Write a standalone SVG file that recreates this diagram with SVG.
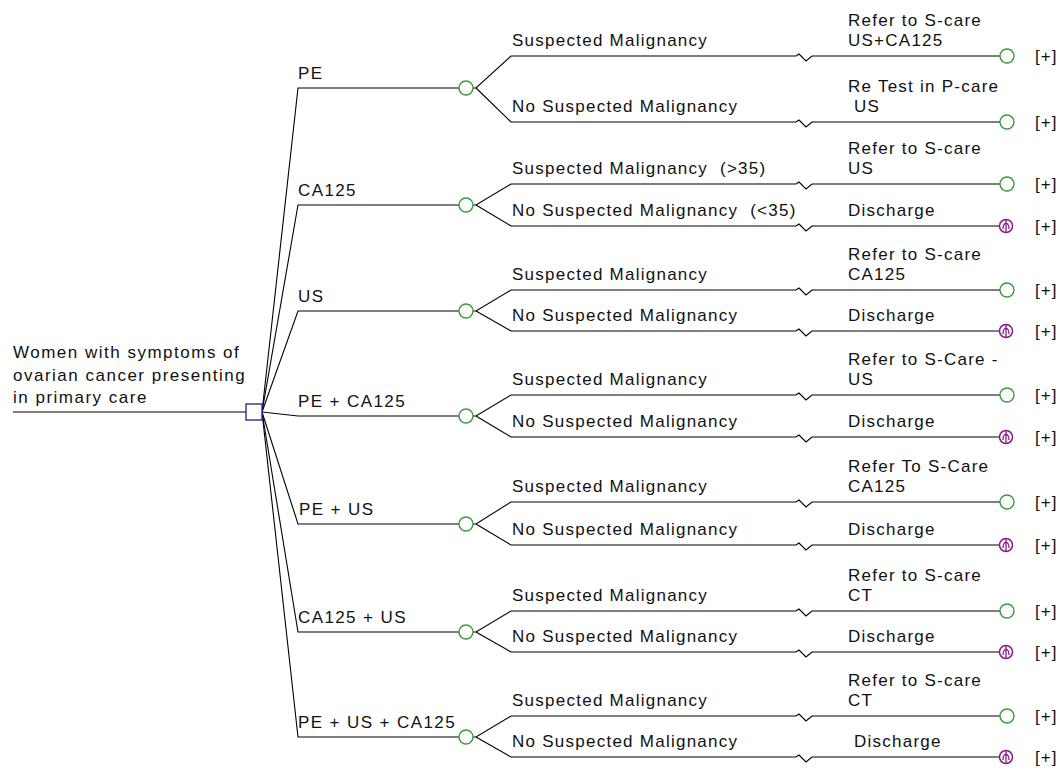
<svg xmlns="http://www.w3.org/2000/svg" xmlns:xlink="http://www.w3.org/1999/xlink" width="1061" height="769" viewBox="0 0 1061 769">
<style>
text{font-family:"Liberation Sans",Arial,sans-serif;font-size:17px;fill:#111;letter-spacing:1.25px}
.root{letter-spacing:1.5px}
.br{letter-spacing:1.4px}
.ln{fill:none;stroke:#000;stroke-width:1.1}
.dec{fill:#fff;stroke:#2b2ba0;stroke-width:1.4}
.ch{fill:#fff;stroke:#3a9a3a;stroke-width:1.4}
.mk{fill:#fff;stroke:#8a1a8a;stroke-width:1.5}
.mki{fill:none;stroke:#8a1a8a;stroke-width:1.3}
.plus{letter-spacing:1px}
</style>
<defs>
<path id="tl" d="M511 0 H796 L799 -2 L806 5 L812 0 H1000"/>
<g id="mkv"><circle class="mk" cx="0" cy="0" r="6.5"/><path class="mki" d="M0 -7 V6 M-3 3 Q-3 -2 0 -3 Q3 -2 3 3"/></g>
</defs>
<rect width="1061" height="769" fill="#fff"/>
<g id="connectors" class="ln">
<path d="M13 412 H246"/>
<path d="M262 412 L298 88 H459"/>
<path d="M262 412 L298 205 H459"/>
<path d="M262 412 L298 311 H459"/>
<path d="M262 412 L298 416 H459"/>
<path d="M262 412 L298 524 H459"/>
<path d="M262 412 L298 632 H459"/>
<path d="M262 412 L298 737 H459"/>
<path d="M473 88 H476 L511 56 M476 88 L511 122"/>
<path d="M473 205 H476 L511 184 M476 205 L511 226"/>
<path d="M473 311 H476 L511 290 M476 311 L511 331"/>
<path d="M473 416 H476 L511 395 M476 416 L511 437"/>
<path d="M473 524 H476 L511 502 M476 524 L511 545"/>
<path d="M473 632 H476 L511 611 M476 632 L511 652"/>
<path d="M473 737 H476 L511 716 M476 737 L511 757"/>
<use xlink:href="#tl" y="56"/>
<use xlink:href="#tl" y="122"/>
<use xlink:href="#tl" y="184"/>
<use xlink:href="#tl" y="226"/>
<use xlink:href="#tl" y="290"/>
<use xlink:href="#tl" y="331"/>
<use xlink:href="#tl" y="395"/>
<use xlink:href="#tl" y="437"/>
<use xlink:href="#tl" y="502"/>
<use xlink:href="#tl" y="545"/>
<use xlink:href="#tl" y="611"/>
<use xlink:href="#tl" y="652"/>
<use xlink:href="#tl" y="716"/>
<use xlink:href="#tl" y="757"/>
</g>
<g id="branch-labels">
<text class="br" x="298" y="79">PE</text>
<text class="br" x="298" y="196">CA125</text>
<text class="br" x="298" y="302">US</text>
<text class="br" x="298" y="407">PE + CA125</text>
<text class="br" x="299" y="515">PE + US</text>
<text class="br" x="298" y="623">CA125 + US</text>
<text class="br" x="298" y="728">PE + US + CA125</text>
<text x="512" y="46">Suspected Malignancy</text>
<text x="512" y="112">No Suspected Malignancy</text>
<text x="512" y="174" xml:space="preserve">Suspected Malignancy  (&gt;35)</text>
<text x="512" y="216" xml:space="preserve">No Suspected Malignancy  (&lt;35)</text>
<text x="512" y="280">Suspected Malignancy</text>
<text x="512" y="321">No Suspected Malignancy</text>
<text x="512" y="385">Suspected Malignancy</text>
<text x="512" y="427">No Suspected Malignancy</text>
<text x="512" y="492">Suspected Malignancy</text>
<text x="512" y="535">No Suspected Malignancy</text>
<text x="512" y="601">Suspected Malignancy</text>
<text x="512" y="642">No Suspected Malignancy</text>
<text x="512" y="706">Suspected Malignancy</text>
<text x="512" y="747">No Suspected Malignancy</text>
</g>
<g id="root">
<text class="root" x="13" y="358">Women with symptoms of</text>
<text class="root" x="13" y="380.5">ovarian cancer presenting</text>
<text class="root" x="13" y="403">in primary care</text>
<rect class="dec" x="246" y="404" width="16" height="16"/>
</g>
<g id="chance-pe"><circle class="ch" cx="466" cy="88" r="7"/></g>
<g id="chance-ca125"><circle class="ch" cx="466" cy="205" r="7"/></g>
<g id="chance-us"><circle class="ch" cx="466" cy="311" r="7"/></g>
<g id="chance-pe-ca125"><circle class="ch" cx="466" cy="416" r="7"/></g>
<g id="chance-pe-us"><circle class="ch" cx="466" cy="524" r="7"/></g>
<g id="chance-ca125-us"><circle class="ch" cx="466" cy="632" r="7"/></g>
<g id="chance-pe-us-ca125"><circle class="ch" cx="466" cy="737" r="7"/></g>

<g id="t1"><text x="848" y="26">Refer to S-care</text><text x="848" y="46">US+CA125</text><circle class="ch" cx="1007" cy="56" r="7"/><text class="plus" x="1035" y="61.5">[+]</text></g>
<g id="t2"><text x="848" y="92">Re Test in P-care</text><text x="854" y="112">US</text><circle class="ch" cx="1007" cy="122" r="7"/><text class="plus" x="1035" y="127.5">[+]</text></g>
<g id="t3"><text x="848" y="154">Refer to S-care</text><text x="848" y="174">US</text><circle class="ch" cx="1007" cy="184" r="7"/><text class="plus" x="1035" y="189.5">[+]</text></g>
<g id="t4"><text x="848" y="216">Discharge</text><use xlink:href="#mkv" x="1006" y="226"/><text class="plus" x="1035" y="231.5">[+]</text></g>
<g id="t5"><text x="848" y="260">Refer to S-care</text><text x="848" y="280">CA125</text><circle class="ch" cx="1007" cy="290" r="7"/><text class="plus" x="1035" y="295.5">[+]</text></g>
<g id="t6"><text x="848" y="321">Discharge</text><use xlink:href="#mkv" x="1006" y="331"/><text class="plus" x="1035" y="336.5">[+]</text></g>
<g id="t7"><text x="848" y="365">Refer to S-Care -</text><text x="848" y="385">US</text><circle class="ch" cx="1007" cy="395" r="7"/><text class="plus" x="1035" y="400.5">[+]</text></g>
<g id="t8"><text x="848" y="427">Discharge</text><use xlink:href="#mkv" x="1006" y="437"/><text class="plus" x="1035" y="442.5">[+]</text></g>
<g id="t9"><text x="848" y="472">Refer To S-Care</text><text x="848" y="492">CA125</text><circle class="ch" cx="1007" cy="502" r="7"/><text class="plus" x="1035" y="507.5">[+]</text></g>
<g id="t10"><text x="848" y="535">Discharge</text><use xlink:href="#mkv" x="1006" y="545"/><text class="plus" x="1035" y="550.5">[+]</text></g>
<g id="t11"><text x="848" y="581">Refer to S-care</text><text x="848" y="601">CT</text><circle class="ch" cx="1007" cy="611" r="7"/><text class="plus" x="1035" y="616.5">[+]</text></g>
<g id="t12"><text x="848" y="642">Discharge</text><use xlink:href="#mkv" x="1006" y="652"/><text class="plus" x="1035" y="657.5">[+]</text></g>
<g id="t13"><text x="848" y="686">Refer to S-care</text><text x="848" y="706">CT</text><circle class="ch" cx="1007" cy="716" r="7"/><text class="plus" x="1035" y="721.5">[+]</text></g>
<g id="t14"><text x="854" y="747">Discharge</text><use xlink:href="#mkv" x="1006" y="757"/><text class="plus" x="1035" y="762.5">[+]</text></g>
</svg>
